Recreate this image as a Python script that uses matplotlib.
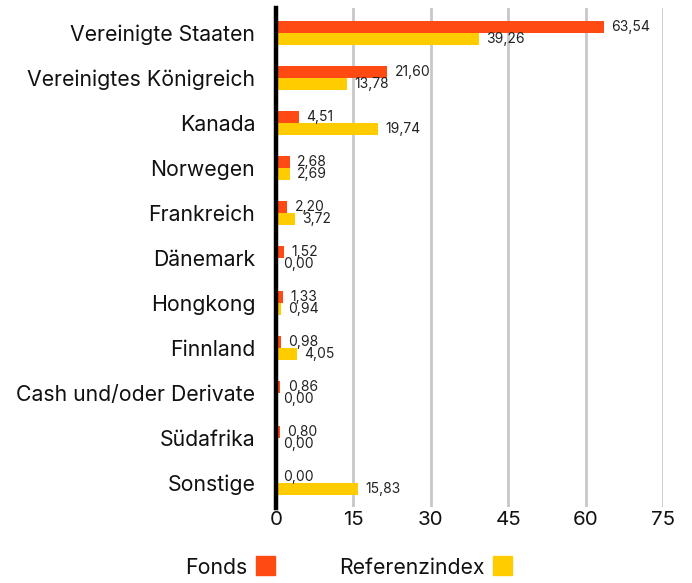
import matplotlib
matplotlib.use("Agg")
import matplotlib.pyplot as plt
from matplotlib.patches import Rectangle
import numpy as np

plt.rcParams['font.family'] = ['Inter', 'DejaVu Sans']

categories = ["Vereinigte Staaten", "Vereinigtes Königreich", "Kanada", "Norwegen",
              "Frankreich", "Dänemark", "Hongkong", "Finnland",
              "Cash und/oder Derivate", "Südafrika", "Sonstige"]
fonds = [63.54, 21.60, 4.51, 2.68, 2.20, 1.52, 1.33, 0.98, 0.86, 0.80, 0.00]
referenz = [39.26, 13.78, 19.74, 2.69, 3.72, 0.00, 0.94, 4.05, 0.00, 0.00, 15.83]
xticks = [0, 15, 30, 45, 60, 75]
series_names = ["Fonds", "Referenzindex"]

c_fonds = "#FF4A14"
c_ref = "#FFCC00"

W, H = 692, 583
fig = plt.figure(figsize=(W / 100, H / 100), dpi=100)
ax = fig.add_axes([276 / W, 1 - 507 / H, (663 - 276) / W, (507 - 8) / H])

y = np.arange(len(categories))
bh = 0.265
ax.barh(y - bh / 2, fonds, height=bh, color=c_fonds, zorder=3)
ax.barh(y + bh / 2, referenz, height=bh, color=c_ref, zorder=3)

for i, (f, r) in enumerate(zip(fonds, referenz)):
    ax.text(f + 1.4, i - bh / 2, f"{f:.2f}".replace(".", ","), va="center", ha="left",
            fontsize=10, color="#222222", zorder=4)
    ax.text(r + 1.4, i + bh / 2, f"{r:.2f}".replace(".", ","), va="center", ha="left",
            fontsize=10, color="#222222", zorder=4)

ax.set_xlim(0, 75)
ax.set_ylim(len(categories) - 1 + 0.535, -0.555)
ax.set_xticks(xticks)
ax.set_xticklabels([str(t) for t in xticks], fontsize=14.8, color="#111111")
ax.set_yticks(y)
ax.set_yticklabels(categories, fontsize=15.3, color="#111111")
ax.tick_params(axis="both", length=0)
ax.tick_params(axis="y", pad=15)
ax.tick_params(axis="x", pad=3)
for s in ["top", "right", "bottom", "left"]:
    ax.spines[s].set_visible(False)
ax.grid(axis="x", color="#c8c8c8", linewidth=2, zorder=1)
ax.axvline(0, color="black", linewidth=3.2, zorder=5, ymin=-0.003, ymax=1.0, clip_on=False)

# legend
sq = 19
fig.text(247 / W, 1 - 568 / H, series_names[0], ha="right", va="center", fontsize=15.3, color="#111111")
fig.patches.append(Rectangle((256 / W, 1 - 575 / H), sq / W, sq / H, transform=fig.transFigure,
                             color=c_fonds, figure=fig))
fig.text(485 / W, 1 - 568 / H, series_names[1], ha="right", va="center", fontsize=15.3, color="#111111")
fig.patches.append(Rectangle((493 / W, 1 - 575 / H), sq / W, sq / H, transform=fig.transFigure,
                             color=c_ref, figure=fig))

fig.savefig("out.png", dpi=100)
